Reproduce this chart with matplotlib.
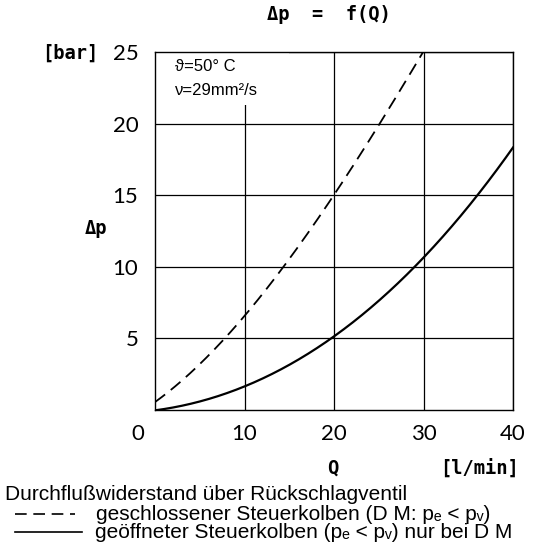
import numpy as np
import matplotlib
matplotlib.use("Agg")
import matplotlib.pyplot as plt
from matplotlib.lines import Line2D

# values
q_closed = [0, 5, 7.6, 10, 14.4, 20, 25, 30]
dp_closed = [0.5, 3.3, 5, 6.4, 10, 15, 20, 25]
q_open = [0, 2, 5, 10, 15, 20, 25, 28.8, 30, 35, 40]
dp_open = [0, 0.1, 0.6, 1.75, 3.2, 5, 7.5, 10, 10.7, 14.2, 18.3]
x_ticks = [10, 20, 30, 40]
y_ticks = [5, 10, 15, 20, 25]

plt.rcParams['font.family'] = ['Liberation Sans', 'DejaVu Sans']

fig = plt.figure(figsize=(5.37, 5.54), dpi=100)
ax = fig.add_axes([155/537, 144/554, 358/537, 358/554])

# smooth the read points a little
def smooth(x, y, n=200):
    xs = np.linspace(min(x), max(x), n)
    c = np.polyfit(x, y, 3)
    return xs, np.polyval(c, xs)

xs, ys = smooth(q_closed, dp_closed)
ax.plot(xs, ys, color='black', lw=1.3, dashes=(7, 4), zorder=3)
xs, ys = smooth(q_open, dp_open)
ax.plot(xs, ys, color='black', lw=1.6, zorder=3)

tick_font = ['Lato', 'Liberation Sans']
ax.set_xlim(0, 40)
ax.set_ylim(0, 25)
ax.set_xticks(x_ticks)
ax.set_yticks(y_ticks)
ax.grid(True, color='black', lw=0.9)
ax.tick_params(length=0, labelsize=16, pad=12)
ax.tick_params(axis='x', pad=10)
for lab in ax.get_xticklabels() + ax.get_yticklabels():
    lab.set_family(tick_font)
ax.text(-1.9, -0.95, '0', ha='center', va='top', fontsize=16, family=tick_font)
for s in ax.spines.values():
    s.set_linewidth(1.0)
    s.set_zorder(5)
ax.set_axisbelow(True)

# white box for the conditions in the top left
ax.add_patch(plt.Rectangle((0, 21.3), 15, 3.7, facecolor='white',
                           edgecolor='none', zorder=2))
ax.text(2.2, 24.0, 'ϑ=50° C', fontsize=12, va='center', zorder=4)
ax.text(2.2, 22.3, 'ν=29mm²/s', fontsize=12, va='center', zorder=4)

mono = dict(family='DejaVu Sans Mono', fontweight='bold', fontsize=13.5)
fig.text(329/537, 1 - 15/554, 'Δp  =  f(Q)', ha='center', va='center', **mono)
fig.text(70/537, 1 - 53/554, '[bar]', ha='center', va='center', **mono)
fig.text(96/537, 1 - 228/554, 'Δp', ha='center', va='center', **mono)
fig.text(333/537, 1 - 468/554, 'Q', ha='center', va='center', **mono)
fig.text(480/537, 1 - 468/554, '[l/min]', ha='center', va='center', **mono)

# caption
cap = dict(va='center', fontsize=15)
fig.text(5/537, 1 - 495/554, 'Durchflußwiderstand über Rückschlagventil', **cap)
fig.text(96/537, 1 - 514/554, 'geschlossener Steuerkolben (D M: pₑ < pᵥ)', **cap)
fig.text(95/537, 1 - 533/554, 'geöffneter Steuerkolben (pₑ < pᵥ) nur bei D M', **cap)
fig.add_artist(Line2D([15/537, 75/537], [1 - 514/554] * 2, color='black',
                      lw=1.2, dashes=(7, 4)))
fig.add_artist(Line2D([15/537, 82/537], [1 - 532/554] * 2, color='black', lw=1.2))

fig.savefig('out.png', dpi=100)
